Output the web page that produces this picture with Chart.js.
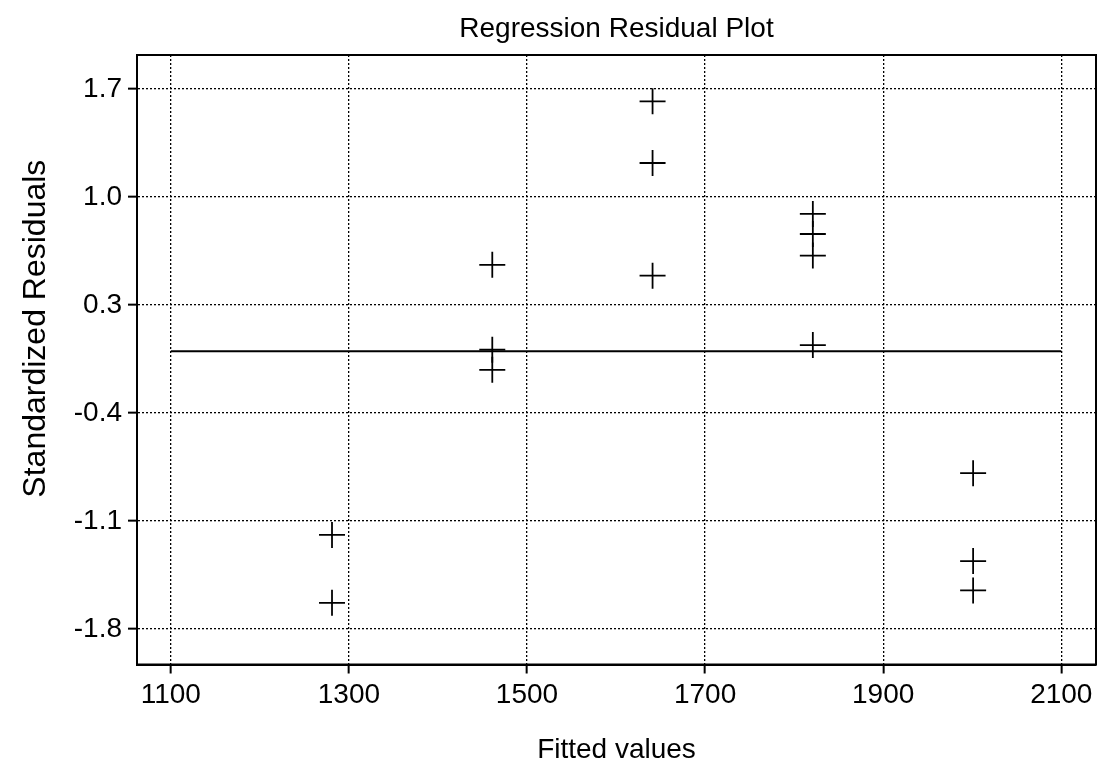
<!DOCTYPE html>
<html>
<head>
<meta charset="utf-8">
<title>Regression Residual Plot</title>
<script src="https://cdn.jsdelivr.net/npm/chart.js@4.4.1/dist/chart.umd.min.js"></script>
<style>
  html, body { margin: 0; padding: 0; background: #fff; }
  canvas { display: block; }
</style>
</head>
<body>
<canvas id="residualChart" width="1099" height="770"></canvas>
<script>
// values
const fittedValues = [1281, 1281, 1461, 1461, 1461, 1641, 1641, 1641, 1821, 1821, 1821, 1821, 2001, 2001, 2001];
const stdResiduals = [-1.19, -1.63, 0.56, 0.01, -0.12, 1.62, 1.22, 0.49, 0.89, 0.76, 0.62, 0.04, -0.79, -1.36, -1.55];
const xTicks = [1100, 1300, 1500, 1700, 1900, 2100];
const yTicks = [1.7, 1.0, 0.3, -0.4, -1.1, -1.8];
const zeroLineX = [1100, 2100];

const FONT = "'Liberation Sans', Arial, Helvetica, sans-serif";

const points = fittedValues.map((x, i) => ({ x: x, y: stdResiduals[i] }));
const zeroLine = zeroLineX.map(x => ({ x: x, y: 0 }));

// box around the plot area (chart.js only draws left/bottom borders)
const frameBox = {
  id: 'frameBox',
  beforeDatasetsDraw(chart) {
    const { ctx, chartArea: a } = chart;
    ctx.save();
    ctx.strokeStyle = '#000';
    ctx.lineWidth = 2;
    ctx.strokeRect(a.left, a.top, a.right - a.left, a.bottom - a.top);
    ctx.restore();
  }
};

new Chart(document.getElementById('residualChart'), {
  type: 'scatter',
  data: {
    datasets: [
      {
        label: 'Residuals',
        data: points,
        pointStyle: 'cross',
        pointRadius: 13,
        pointBorderWidth: 1.8,
        borderColor: '#000',
        backgroundColor: '#000'
      },
      {
        type: 'line',
        label: 'Zero',
        data: zeroLine,
        borderColor: '#000',
        borderWidth: 2,
        pointRadius: 0
      }
    ]
  },
  options: {
    responsive: false,
    animation: false,
    layout: { autoPadding: false, padding: { left: 0, right: 3, top: 0, bottom: 0 } },
    plugins: {
      legend: { display: false },
      tooltip: { enabled: false },
      title: {
        display: true,
        text: 'Regression Residual Plot',
        fullSize: false,
        color: '#000',
        font: { family: FONT, size: 28, weight: 'normal' },
        padding: { top: 12, bottom: 9.4 }
      }
    },
    scales: {
      x: {
        type: 'linear',
        min: 1062,
        max: 2139,
        afterBuildTicks: s => { s.ticks = xTicks.map(v => ({ value: v })); },
        afterFit: s => { s.height = 105.5; s.paddingLeft = 0; s.paddingRight = 0; },
        ticks: {
          color: '#000',
          font: { family: FONT, size: 28 },
          padding: 5,
          maxRotation: 0,
          autoSkip: false,
          callback: v => String(v)
        },
        grid: { color: '#000', lineWidth: 1.3, tickLength: 9, tickWidth: 2, tickColor: '#000' },
        border: { display: true, color: '#000', width: 2, dash: [2, 2] },
        title: {
          display: true,
          text: 'Fitted values',
          color: '#000',
          font: { family: FONT, size: 28 },
          padding: { top: 0, bottom: 3 }
        }
      },
      y: {
        type: 'linear',
        min: -2.03,
        max: 1.92,
        afterBuildTicks: s => { s.ticks = yTicks.map(v => ({ value: v })); },
        afterFit: s => { s.width = 137; s.paddingTop = 0; s.paddingBottom = 0; },
        ticks: {
          color: '#000',
          font: { family: FONT, size: 28 },
          padding: 6,
          autoSkip: false,
          callback: v => v.toFixed(1)
        },
        grid: { color: '#000', lineWidth: 1.3, tickLength: 9, tickWidth: 2, tickColor: '#000' },
        border: { display: true, color: '#000', width: 2, dash: [2, 2] },
        title: {
          display: true,
          // leading spaces nudge the centred label up to where the original sits
          text: '       Standardized Residuals',
          color: '#000',
          font: { family: FONT, size: 32 },
          padding: { top: 17, bottom: 0 }
        }
      }
    }
  },
  plugins: [frameBox]
});
</script>
</body>
</html>
